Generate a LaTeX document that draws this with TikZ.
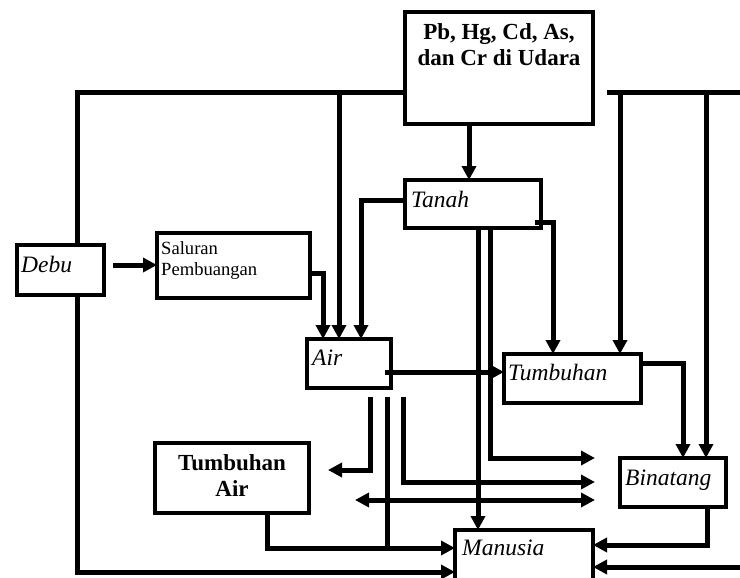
\documentclass[tikz,border=0pt]{standalone}
\usepackage{fontspec}
\setmainfont{Liberation Serif}
\usetikzlibrary{arrows.meta}
\begin{document}
\begin{tikzpicture}[x=1pt,y=-1pt,
  box/.style={draw,line width=4pt,rectangle,inner sep=0pt,outer sep=0pt},
  conn/.style={line width=5pt,line join=miter},
  arr/.style={conn,-{Triangle[length=14pt,width=14pt]}},
  darr/.style={conn,{Triangle[length=14pt,width=14pt]}-{Triangle[length=14pt,width=14pt]}},
  lab/.style={inner sep=0pt,anchor=base west,font=\fontsize{23.5}{26}\selectfont\itshape},
  blab/.style={inner sep=0pt,anchor=base,align=center,font=\fontsize{23}{26}\selectfont\bfseries}]
\useasboundingbox (0,0) rectangle (740,578);
\clip (0,0) rectangle (740,578);
% boxes
\node[box,minimum width=188pt,minimum height=112pt] (udara) at (499,68) {};
\node[box,minimum width=136pt,minimum height=48pt] (tanah) at (473,204) {};
\node[box,minimum width=87pt,minimum height=50pt] (debu) at (60.5,270) {};
\node[box,minimum width=153pt,minimum height=65pt] (saluran) at (233.5,265.5) {};
\node[box,minimum width=84pt,minimum height=49pt] (air) at (349,363.5) {};
\node[box,minimum width=137pt,minimum height=49pt] (tumbuhan) at (572.5,378.5) {};
\node[box,minimum width=106pt,minimum height=49pt] (binatang) at (673,482.5) {};
\node[box,minimum width=138pt,minimum height=70pt] (manusia) at (524,565) {};
\node[box,minimum width=154pt,minimum height=70pt] (tair) at (232,478) {};
% labels
\node[blab] (tudara) at (499,66) {Pb, Hg, Cd, As,\\dan Cr di Udara};
\node[lab] (ttanah) at (411,207) {Tanah};
\node[lab] (tdebu) at (21,272) {Debu};
\node[inner sep=0pt,anchor=base west,align=left,font=\fontsize{18.6}{21}\selectfont] (tsal) at (161,275) {Saluran\\Pembuangan};
\node[lab] (tair2) at (312,365) {Air};
\node[lab] (ttumb) at (508,380) {Tumbuhan};
\node[lab] (tbin) at (625,485) {Binatang};
\node[lab] (tman) at (462,555) {Manusia};
\node[blab] (ttair) at (232,496) {Tumbuhan\\Air};
% junction coordinates
\coordinate (j1) at (339,93);
\coordinate (j2) at (620,93);
\coordinate (j3) at (706,93);
\coordinate (rtop) at (607,93);
\coordinate (redge) at (740,93);
\coordinate (wl) at (328,470);
\coordinate (wr1) at (595,458);
\coordinate (wr2) at (595,482);
\coordinate (dl) at (355,500);
\coordinate (dr) at (595,500);
\coordinate (j4) at (387,548);
\coordinate (bedge) at (740,567);
% connectors
\draw[conn] (77,0 |- debu.north) -- (77,93) -- (udara.west |- j1);
\draw[arr] (j1) -- (j1 |- air.north);
\draw[arr] (469,0 |- udara.south) -- (469,0 |- tanah.north);
\draw[arr] (tanah.west |- 0,200) -- (361,200) -- (361,0 |- air.north);
\draw[arr] (saluran.east |- 0,273) -- (323,273) -- (323,0 |- air.north);
\draw[arr] (113,265) -- (saluran.west |- 0,265);
\draw[arr] (535,222) -- (553,222) -- (553,0 |- tumbuhan.north);
\draw[arr] (478,0 |- tanah.south) -- (478,0 |- manusia.north);
\draw[arr] (490,0 |- tanah.south) -- (490,458) -- (wr1);
\draw[conn] (rtop) -- (redge);
\draw[arr] (j2) -- (j2 |- tumbuhan.north);
\draw[arr] (j3) -- (j3 |- binatang.north);
\draw[arr] (tumbuhan.east |- 0,363) -- (683,363) -- (683,0 |- binatang.north);
\draw[arr] (385,372) -- (tumbuhan.west |- 0,372);
\draw[arr] (370,397) -- (370,470) -- (wl);
\draw[conn] (387,397) -- (j4);
\draw[arr] (403,397) -- (403,482) -- (wr2);
\draw[darr] (dl) -- (dr);
\draw[arr] (267,0 |- tair.south) -- (267,548) -- (manusia.west |- j4);
\draw[arr] (77,0 |- debu.south) -- (77,572) -- (manusia.west |- 0,572);
\draw[arr] (707,0 |- binatang.south) -- (707,545) -- (manusia.east |- 0,545);
\draw[arr] (bedge) -- (manusia.east |- bedge);
\end{tikzpicture}
\end{document}
